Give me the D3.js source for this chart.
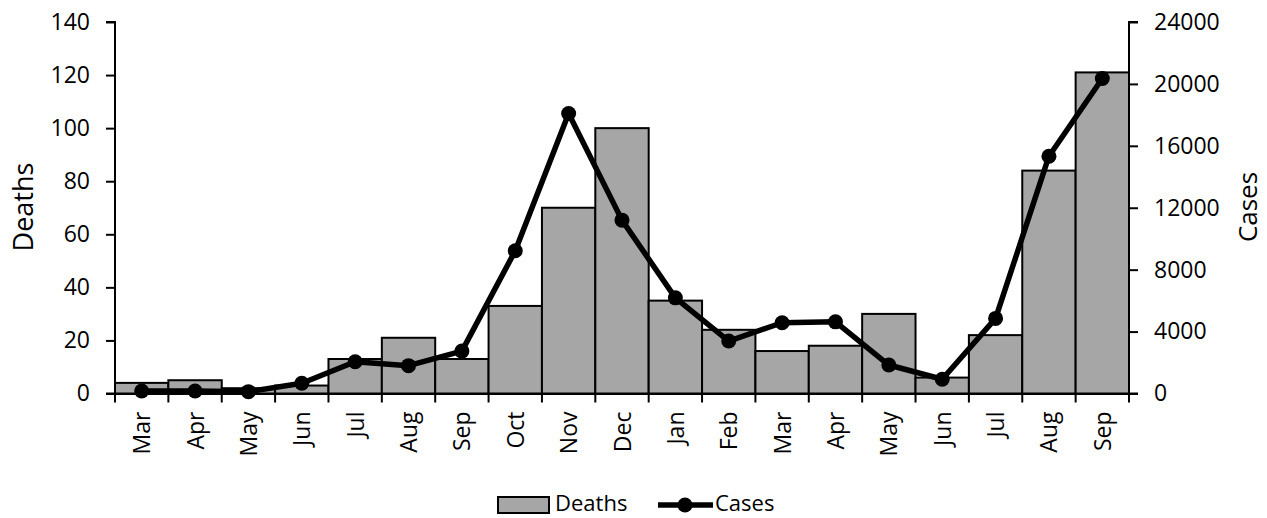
<!DOCTYPE html>
<html>
<head>
<meta charset="utf-8">
<script src="https://cdn.jsdelivr.net/npm/d3@7"></script>
<style>
  body { margin: 0; background: #fff; }
  text { font-family: "Open Sans", Lato, sans-serif; fill: #000; }
</style>
</head>
<body>
<svg id="chart" width="1267" height="518"></svg>
<script>
// months along the x axis (Mar 2020 .. Sep 2021)
var months = ["Mar", "Apr", "May", "Jun", "Jul", "Aug", "Sep", "Oct", "Nov", "Dec",
              "Jan", "Feb", "Mar", "Apr", "May", "Jun", "Jul", "Aug", "Sep"];
var deaths = [4, 5, 2, 3, 13, 21, 13, 33, 70, 100, 35, 24, 16, 18, 30, 6, 22, 84, 121];
var cases = [160, 160, 120, 660, 2050, 1800, 2740, 9220, 18090, 11200,
             6180, 3390, 4570, 4630, 1840, 920, 4850, 15330, 20350];
var deathTicks = [0, 20, 40, 60, 80, 100, 120, 140];
var caseTicks = [0, 4000, 8000, 12000, 16000, 20000, 24000];

var svg = d3.select("#chart");
var m = {left: 115, right: 1129, top: 22, bottom: 393.5};
var fs = "23px";

// band per month, bars fill the whole band
var x = d3.scaleBand().domain(d3.range(months.length)).range([m.left, m.right]).padding(0);
var yL = d3.scaleLinear().domain([0, 140]).range([m.bottom, m.top]);
var yR = d3.scaleLinear().domain([0, 24000]).range([m.bottom, m.top]);

// bars
svg.append("g").selectAll("rect")
    .data(deaths)
    .enter().append("rect")
    .attr("x", function(d, i) { return x(i); })
    .attr("y", function(d) { return yL(d); })
    .attr("width", x.bandwidth())
    .attr("height", function(d) { return yL(0) - yL(d); })
    .attr("fill", "#a6a6a6")
    .attr("stroke", "#000")
    .attr("stroke-width", 2);

// axes
var axisL = svg.append("g")
    .attr("transform", "translate(" + m.left + ",0)")
    .call(d3.axisLeft(yL).tickValues(deathTicks).tickSize(9).tickPadding(16));
var axisR = svg.append("g")
    .attr("transform", "translate(" + m.right + ",0)")
    .call(d3.axisRight(yR).tickValues(caseTicks).tickFormat(d3.format("d")).tickSize(9).tickPadding(16));
var axisX = svg.append("g")
    .attr("transform", "translate(0," + m.bottom + ")")
    .call(d3.axisBottom(x).tickValues([]).tickSizeOuter(0));

// month boundary ticks
axisX.selectAll("line.bound")
    .data(d3.range(months.length + 1))
    .enter().append("line")
    .attr("class", "bound")
    .attr("x1", function(i) { return m.left + i * x.step(); })
    .attr("x2", function(i) { return m.left + i * x.step(); })
    .attr("y1", 0).attr("y2", 9)
    .attr("stroke", "#000").attr("stroke-width", 2);

// month labels, rotated
axisX.selectAll("text.month")
    .data(months)
    .enter().append("text")
    .attr("class", "month")
    .attr("transform", function(d, i) {
        return "translate(" + (x(i) + x.bandwidth() / 2 + 8.5) + ",18) rotate(-90)";
    })
    .attr("text-anchor", "end")
    .style("font-size", fs)
    .text(function(d) { return d; });

[axisL, axisR, axisX].forEach(function(a) {
    a.select(".domain").attr("stroke", "#000").attr("stroke-width", 2);
    a.selectAll(".tick line").attr("stroke", "#000").attr("stroke-width", 2);
    a.selectAll(".tick text").style("font-size", fs).attr("fill", "#000");
});
axisL.select(".domain").attr("d", "M-9," + m.top + "H0V" + m.bottom + "H-9");
axisR.select(".domain").attr("d", "M9," + m.top + "H0V" + m.bottom + "H9");

// cases line
var line = d3.line()
    .x(function(d, i) { return x(i) + x.bandwidth() / 2; })
    .y(function(d) { return yR(d); });
svg.append("path")
    .datum(cases)
    .attr("d", line)
    .attr("fill", "none")
    .attr("stroke", "#000")
    .attr("stroke-width", 5.5)
    .attr("stroke-linejoin", "round");
svg.append("g").selectAll("circle")
    .data(cases)
    .enter().append("circle")
    .attr("cx", function(d, i) { return x(i) + x.bandwidth() / 2; })
    .attr("cy", function(d) { return yR(d); })
    .attr("r", 7.5)
    .attr("fill", "#000");

// axis titles
svg.append("text")
    .attr("transform", "translate(33,207) rotate(-90)")
    .attr("text-anchor", "middle")
    .style("font-size", "27px")
    .text("Deaths");
svg.append("text")
    .attr("transform", "translate(1257,207) rotate(-90)")
    .attr("text-anchor", "middle")
    .style("font-size", "26px")
    .text("Cases");

// legend
var lg = svg.append("g");
lg.append("rect")
    .attr("x", 498).attr("y", 497).attr("width", 51).attr("height", 16)
    .attr("fill", "#a6a6a6").attr("stroke", "#000").attr("stroke-width", 2);
lg.append("text").attr("x", 555).attr("y", 511).style("font-size", "22px").text("Deaths");
lg.append("line")
    .attr("x1", 658).attr("x2", 713).attr("y1", 505).attr("y2", 505)
    .attr("stroke", "#000").attr("stroke-width", 5.5);
lg.append("circle").attr("cx", 685).attr("cy", 505).attr("r", 7.5).attr("fill", "#000");
lg.append("text").attr("x", 715).attr("y", 511).style("font-size", "22px").text("Cases");
</script>
</body>
</html>
